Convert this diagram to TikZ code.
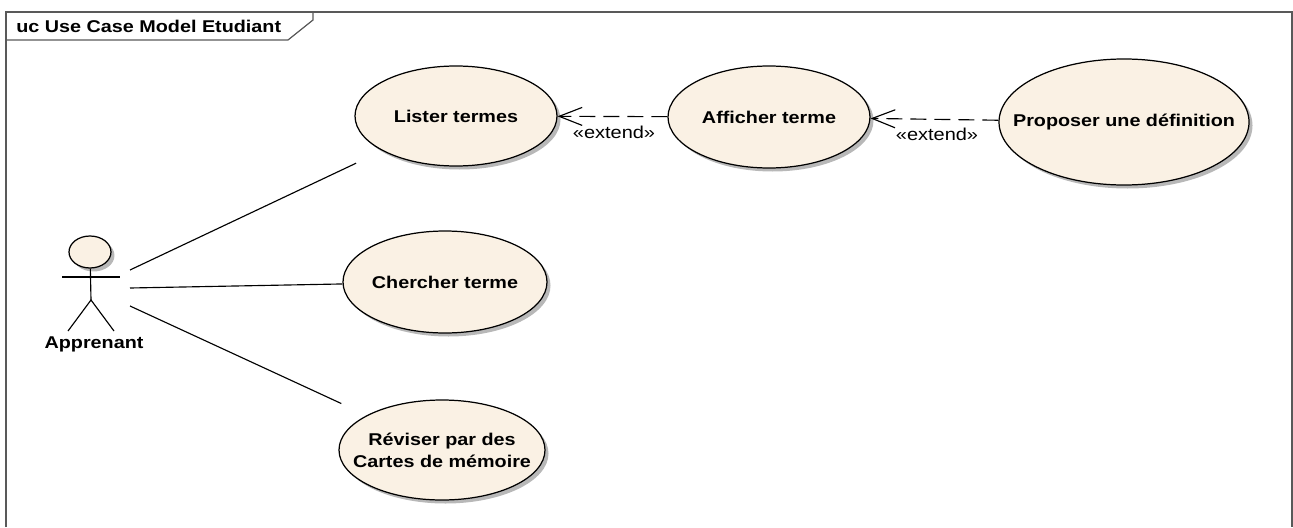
\documentclass[tikz,border=0pt]{standalone}
\usepackage{fontspec}
\setmainfont{Liberation Sans}[FakeStretch=1.16]
\usetikzlibrary{arrows.meta,shadows,shapes.geometric}

\begin{document}
\begin{tikzpicture}[
		x=0.02cm, y=-0.02cm,
		usecase/.style={ellipse, draw=black, line width=0.7pt, fill=caseFill, inner xsep=-1.2cm, inner ysep=0pt, align=center, font=\fontsize{9.7}{12.6}\selectfont\bfseries,
			drop shadow={shadow xshift=0.07cm, shadow yshift=-0.07cm, fill=black!35, opacity=0.8}},
		link/.style={draw=black, line width=0.65pt},
		extend/.style={draw=black, line width=0.65pt, dash pattern=on 0.32cm off 0.16cm, -{Straight Barb[length=0.46cm, width=0.36cm, line width=0.65pt]}},
		stereo/.style={font=\fontsize{9.8}{12}\selectfont, inner sep=0pt}
		]
		\definecolor{caseFill}{RGB}{250,241,228}
		\useasboundingbox (0,0) rectangle (1293,527);
		
		% Frame and its tab
		\draw[draw=black!65, line width=0.7pt] (6,527) -- (6,12) -- (1292,12) -- (1292,527);
		\draw[draw=black!65, line width=0.7pt] (6,40) -- (288,40) -- (313,20) -- (313,12);
		\node[anchor=west, inner sep=0pt, font=\fontsize{9.7}{12}\selectfont\bfseries] (frametitle) at (16,26) {uc Use Case Model Etudiant};
		
		% Use cases
		\foreach \name/\x/\y/\rx/\ry/\label in {lister/456/116/101/50/Lister termes, afficher/769/117/101/51/Afficher terme, proposer/1124/122/125/63/Proposer une définition, chercher/445/282/102/51/Chercher terme, reviser/442/450/103/50/{Réviser par des\\Cartes de mémoire}}
		\node[usecase, minimum width=2*\rx*0.02cm, minimum height=2*\ry*0.02cm] (\name) at (\x,\y) {\label};
		
		% Actor
		\node[ellipse, draw=black, line width=0.7pt, fill=caseFill, minimum width=0.84cm, minimum height=0.64cm, inner sep=0pt, drop shadow={shadow xshift=0.07cm, shadow yshift=-0.07cm, fill=black!35, opacity=0.8}] (head) at (90,252) {};
		\coordinate (hip) at (91,300);
		\coordinate (armleft) at (62,277);
		\coordinate (armright) at (120,277);
		\coordinate (footleft) at (68,331);
		\coordinate (footright) at (114,331);
		\draw[link] (head) -- (hip);
		\draw[link] (armleft) -- (armright);
		\draw[link] (footleft) -- (hip) -- (footright);
		\node[inner sep=0pt, font=\fontsize{9.7}{12}\selectfont\bfseries] (apprenant) at (94,344) {Apprenant};
		
		% Associations
		\coordinate (assoc1) at (130,270);
		\coordinate (assoc2) at (130,288);
		\coordinate (assoc3) at (130,306);
		\draw[link, shorten >=0.58cm] (assoc1) -- (lister);
		\draw[link] (assoc2) -- (chercher);
		\draw[link, shorten >=0.56cm] (assoc3) -- (reviser);
		
		% Extend arrows
		\draw[extend] (afficher) -- (lister);
		\draw[extend] (proposer) -- (afficher);
		\node[stereo] (extend1) at (614,132) {«extend»};
		\node[stereo] (extend2) at (937,134) {«extend»};
		
	\end{tikzpicture}
\end{document}
